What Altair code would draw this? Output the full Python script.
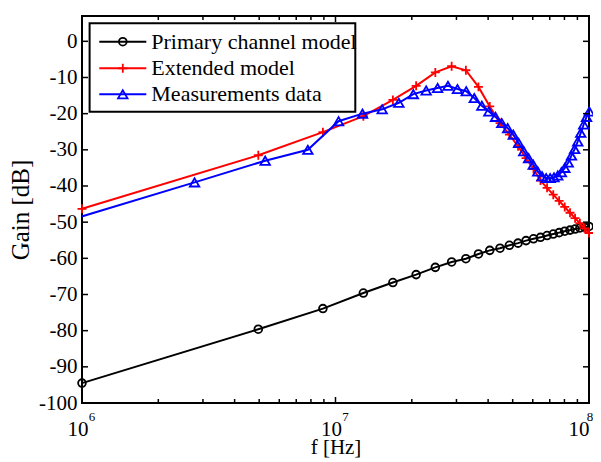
import altair as alt
import pandas as pd

# ---------------- data ----------------
f_model_mhz = [1.0, 4.96, 8.92, 12.88, 16.84, 20.8, 24.76, 28.72, 32.68, 36.64,
               40.6, 44.56, 48.52, 52.48, 56.44, 60.4, 64.36, 68.32, 72.28, 76.24,
               80.2, 84.16, 88.12, 92.08, 96.04, 100.0]
primary_db = [-94.5, -79.6, -73.9, -69.6, -66.7, -64.5, -62.5, -61.0, -60.1, -58.8,
              -57.8, -57.2, -56.4, -55.8, -55.1, -54.6, -54.2, -53.7, -53.3, -52.9,
              -52.5, -52.2, -51.9, -51.6, -51.4, -51.2]
extended_db = [-46.3, -31.5, -25.1, -20.7, -16.2, -12.3, -8.6, -6.9, -8.0, -12.6,
               -18.0, -22.6, -25.8, -29.0, -32.3, -35.3, -38.5, -40.5, -42.4, -44.1,
               -45.8, -47.4, -48.9, -50.3, -51.7, -53.0]
f_meas_mhz = [0.28, 2.78, 5.28, 7.78, 10.28, 12.78, 15.28, 17.78, 20.28, 22.78,
              25.28, 27.78, 30.28, 32.78, 35.28, 37.78, 40.28, 42.78, 45.28, 47.78,
              50.28, 52.78, 55.28, 57.78, 60.28, 62.78, 65.28, 67.78, 70.28, 72.78,
              75.28, 77.78, 80.28, 82.78, 85.28, 87.78, 90.28, 92.78, 95.28, 97.78,
              100.28]
meas_db = [-60.1, -39.0, -33.0, -30.0, -22.1, -20.0, -18.8, -17.0, -14.6, -13.6,
           -12.9, -12.3, -13.2, -13.8, -15.7, -17.8, -19.4, -20.9, -22.6, -24.0,
           -25.8, -28.1, -30.4, -32.3, -34.1, -36.0, -37.3, -37.8, -37.8, -37.6,
           -37.1, -36.2, -35.0, -33.5, -31.6, -29.8, -27.7, -25.3, -23.0, -20.9,
           -19.4]

x_major = [1e6, 1e7, 1e8]
x_exponents = ["6", "7", "8"]
x_minor = [2e6, 3e6, 4e6, 5e6, 6e6, 7e6, 8e6, 9e6,
           2e7, 3e7, 4e7, 5e7, 6e7, 7e7, 8e7, 9e7]
y_ticks = [-100, -90, -80, -70, -60, -50, -40, -30, -20, -10, 0]
legend_labels = ["Primary channel model", "Extended model", "Measurements data"]
legend_colors = ["#000000", "#ff0000", "#0000ff"]

# ---------------- layout ----------------
W, H = 507, 387
FONT = "Liberation Serif"
FS = 21
PLUS = "M-1,0L1,0M0,-1L0,1"

xs = alt.Scale(type="log", domain=[1e6, 1e8], nice=False)
ys = alt.Scale(domain=[-100, 7], nice=False, zero=False)

XAX = alt.Axis(title="f [Hz]", labels=False, ticks=False, domain=False,
               grid=False, titleFont=FONT, titleFontSize=FS,
               titleFontWeight="normal", titleColor="black", titlePadding=33)
YAX = alt.Axis(title="Gain [dB]", values=y_ticks, labelExpr="'' + datum.value",
               ticks=False, domain=False, grid=False, labelFont=FONT,
               labelFontSize=FS, labelColor="black", labelPadding=5,
               titleFont=FONT, titleFontSize=25, titleFontWeight="normal",
               titleColor="black", titlePadding=5)


def X():
    return alt.X("f:Q", scale=xs, axis=XAX)


def Y(field):
    return alt.Y(f"{field}:Q", scale=ys, axis=YAX)


model = pd.DataFrame({"f": [v * 1e6 for v in f_model_mhz],
                      "primary": primary_db, "extended": extended_db})
meas = pd.DataFrame({"f": [v * 1e6 for v in f_meas_mhz], "g": meas_db})

layers = []

# primary (black, circles)
layers.append(alt.Chart(model).mark_line(color="black", strokeWidth=2)
              .encode(x=X(), y=Y("primary")))
layers.append(alt.Chart(model).mark_point(shape="circle", filled=False, color="black",
                                          size=60, strokeWidth=1.8, opacity=1)
              .encode(x=X(), y=Y("primary")))

# extended (red, plus)
layers.append(alt.Chart(model).mark_line(color="#ff0000", strokeWidth=2)
              .encode(x=X(), y=Y("extended")))
layers.append(alt.Chart(model).mark_point(shape=PLUS, filled=False, color="#ff0000",
                                          size=80, strokeWidth=1.8, opacity=1)
              .encode(x=X(), y=Y("extended")))

# measurements (blue, triangles)
layers.append(alt.Chart(meas).mark_line(color="#0000ff", strokeWidth=2, clip=True)
              .encode(x=X(), y=Y("g")))
layers.append(alt.Chart(meas).transform_filter("datum.f >= 1e6")
              .mark_point(shape="triangle-up", filled=False, color="#0000ff",
                          size=90, strokeWidth=1.8, opacity=1)
              .encode(x=X(), y=Y("g")))

# inward ticks
dmaj = pd.DataFrame({"f": x_major, "e": x_exponents})
dmin = pd.DataFrame({"f": x_minor})
dy = pd.DataFrame({"v": y_ticks})
for d, L in ((dmaj, 6), (dmin, 4)):
    layers.append(alt.Chart(d).mark_rule(color="black", strokeWidth=1.5)
                  .encode(x=X(), y=alt.value(H), y2=alt.value(H - L)))
    layers.append(alt.Chart(d).mark_rule(color="black", strokeWidth=1.5)
                  .encode(x=X(), y=alt.value(0), y2=alt.value(L)))
layers.append(alt.Chart(dy).mark_rule(color="black", strokeWidth=1.5)
              .encode(y=Y("v"), x=alt.value(0), x2=alt.value(6)))
layers.append(alt.Chart(dy).mark_rule(color="black", strokeWidth=1.5)
              .encode(y=Y("v"), x=alt.value(W), x2=alt.value(W - 6)))

# x tick labels 10^n (the last one squeezed to stay inside the page)
for cond, dx10, dxe in (("datum.f < 1e8", -4, 10), ("datum.f >= 1e8", -10, 1)):
    base = alt.Chart(dmaj).transform_filter(cond)
    layers.append(base.transform_calculate(t="'10'")
                  .mark_text(font=FONT, fontSize=FS, color="black", align="center",
                             baseline="alphabetic", dx=dx10)
                  .encode(x=X(), y=alt.value(H + 33), text="t:N"))
    layers.append(base.mark_text(font=FONT, fontSize=13, color="black",
                                 align="center", baseline="alphabetic", dx=dxe)
                  .encode(x=X(), y=alt.value(H + 18), text="e:N"))

# legend
leg = pd.DataFrame({"label": legend_labels, "i": [0, 1, 2]})
layers.append(alt.Chart(leg.head(1)).mark_rect(fill="white", stroke="black", strokeWidth=2)
              .encode(x=alt.value(7.6), x2=alt.value(273.3),
                      y=alt.value(7.3), y2=alt.value(95.7)))
row_y = [25.7, 52.3, 78.3]
shapes = ["circle", PLUS, "triangle-up"]
sizes = [60, 80, 90]
for k in range(3):
    dk = leg.iloc[[k]]
    layers.append(alt.Chart(dk).mark_rule(color=legend_colors[k], strokeWidth=2)
                  .encode(x=alt.value(17.3), x2=alt.value(64.3), y=alt.value(row_y[k])))
    layers.append(alt.Chart(dk).mark_point(shape=shapes[k], filled=False,
                                           color=legend_colors[k], size=sizes[k],
                                           strokeWidth=1.8, opacity=1)
                  .encode(x=alt.value(40.8), y=alt.value(row_y[k])))
    layers.append(alt.Chart(dk).mark_text(font=FONT, fontSize=22, color="black",
                                          align="left", baseline="middle")
                  .encode(x=alt.value(69.3), y=alt.value(row_y[k]), text="label:N"))

chart = (alt.layer(*layers)
         .properties(width=W, height=H,
                     autosize=alt.AutoSizeParams(type="none"),
                     padding={"left": 74, "top": 8, "right": 4, "bottom": 66})
         .configure_view(stroke="black", strokeWidth=2))

chart.save("out.html", embed_options={"renderer": "svg", "actions": False})
